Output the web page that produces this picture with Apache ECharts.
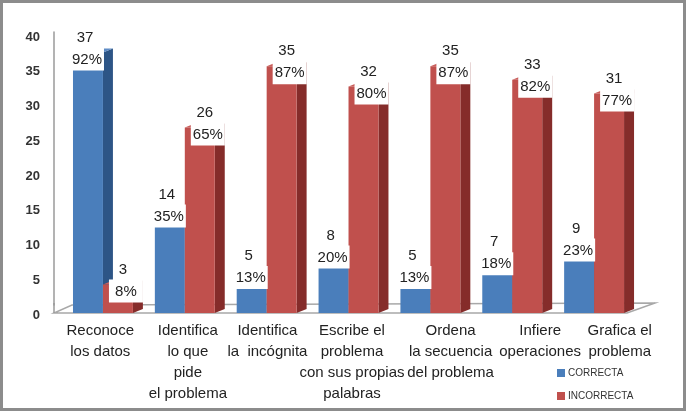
<!DOCTYPE html>
<html>
<head>
<meta charset="utf-8">
<script src="https://cdn.jsdelivr.net/npm/echarts@6/dist/echarts.min.js"></script>
<style>
  html, body { margin: 0; padding: 0; background: #fff; }
  #chart { width: 686px; height: 411px; }
</style>
</head>
<body>
<div id="chart"></div>
<script>
// chart data
const categories = [
    'Reconoce\nlos datos',
    'Identifica\nlo que\npide\nel problema',
    'Identifica\nla  incógnita',
    'Escribe el\nproblema\ncon sus propias\npalabras',
    'Ordena\nla secuencia\ndel problema',
    'Infiere\noperaciones',
    'Grafica el\nproblema'
];
const correcta = [37, 14, 5, 8, 5, 7, 9];
const incorrecta = [3, 26, 35, 32, 35, 33, 31];
const pctCorrecta = ['92%', '35%', '13%', '20%', '13%', '18%', '23%'];
const pctIncorrecta = ['8%', '65%', '87%', '80%', '87%', '82%', '77%'];
const yMin = 0, yMax = 40, yStep = 5;

const FONT = "'Liberation Sans', Arial, sans-serif";
const BLUE = { front: '#4a7ebb', side: '#2d5586', top: '#5f8cc6' };
const RED = { front: '#c0504d', side: '#852c2a', top: '#c95e5b' };
const FLOOR_DEPTH = 8;
// small horizontal nudges of the category labels (3D perspective in the original)
const labelNudge = [0, 2, -12, -16, 8, 14, 0];

// draws one pseudo-3D bar plus its two-line label
function barRenderer(shift, colors, pcts, valDx, pctDx) {
    return function (params, api) {
        const i = api.value(0), v = api.value(1);
        const topPt = api.coord([i, v]);
        const basePt = api.coord([i, 0]);
        const band = api.size([1, 0])[0];
        const w = band * 0.366, d = band * 0.122, rise = 4;
        const x0 = topPt[0] + band * shift, x1 = x0 + w;
        const yt = topPt[1], yb = basePt[1] + FLOOR_DEPTH;
        const txt = { fill: '#222', font: '15px ' + FONT, align: 'center', verticalAlign: 'middle' };
        return {
            type: 'group',
            children: [
                { type: 'polygon', shape: { points: [[x1, yb], [x1, yt], [x1 + d, yt - rise], [x1 + d, yb - rise]] }, style: { fill: colors.side } },
                { type: 'polygon', shape: { points: [[x0, yt], [x1, yt], [x1 + d, yt - rise], [x0 + d, yt - rise]] }, style: { fill: colors.top } },
                { type: 'rect', shape: { x: x0, y: yt, width: w, height: yb - yt }, style: { fill: colors.front } },
                { type: 'rect', shape: { x: x0 + pctDx - 17, y: yt - 5, width: 34, height: 23 }, style: { fill: '#fff' }, z2: 20 },
                { type: 'text', x: x0 + valDx, y: yt - 15, style: Object.assign({ text: String(v) }, txt), z2: 21 },
                { type: 'text', x: x0 + pctDx, y: yt + 7, style: Object.assign({ text: pcts[params.dataIndex] }, txt), z2: 21 }
            ]
        };
    };
}

// floor of the 3D plot area
function floorRenderer(params) {
    const cs = params.coordSys;
    const x = cs.x, y = cs.y + cs.height, w = cs.width;
    return {
        type: 'group',
        children: [
            {
                type: 'polygon',
                shape: { points: [[x, y + FLOOR_DEPTH], [x + w, y + FLOOR_DEPTH], [x + w + 28, y - 2], [x + 18, y]] },
                style: { fill: '#fff', stroke: '#a8a8a8', lineWidth: 1.5 }
            },
            {
                type: 'line',
                shape: { x1: x, y1: y - 2, x2: x, y2: y + FLOOR_DEPTH },
                style: { stroke: '#9a9a9a', lineWidth: 1.5 }
            }
        ]
    };
}

const chart = echarts.init(document.getElementById('chart'));
chart.setOption({
    animation: false,
    grid: [
        { left: 54, right: 59, top: 32, bottom: 106 },
        { left: 57, right: 23, top: 37, bottom: 96 }
    ],
    legend: {
        data: ['CORRECTA', 'INCORRECTA'],
        orient: 'vertical',
        left: 552,
        top: 363,
        icon: 'rect',
        itemWidth: 8,
        itemHeight: 8,
        itemGap: 13,
        textStyle: { fontSize: 10, color: '#333', fontFamily: FONT, padding: [0, 0, 0, -2] }
    },
    xAxis: [
        {
            gridIndex: 0, type: 'category', data: categories,
            axisLine: { show: false }, axisTick: { show: false }, axisLabel: { show: false }
        },
        {
            gridIndex: 1, type: 'category',
            data: categories.map((c, i) => ({
                value: c,
                textStyle: { padding: labelNudge[i] >= 0 ? [0, 0, 0, labelNudge[i]] : [0, -labelNudge[i], 0, 0] }
            })),
            axisLine: { show: false }, axisTick: { show: false },
            axisLabel: { interval: 0, fontSize: 15, lineHeight: 21, color: '#222', margin: 5, fontFamily: FONT }
        }
    ],
    yAxis: [
        {
            gridIndex: 0, type: 'value', min: yMin, max: yMax, interval: yStep,
            axisLine: { show: true, lineStyle: { color: '#9a9a9a', width: 1.5 } },
            axisTick: { show: false },
            splitLine: { show: false },
            axisLabel: { show: false }
        },
        {
            gridIndex: 1, type: 'value', min: yMin, max: yMax, interval: yStep,
            axisLine: { show: false }, axisTick: { show: false }, splitLine: { show: false },
            axisLabel: { fontSize: 13, fontWeight: 'bold', color: '#333', margin: 17, fontFamily: FONT }
        }
    ],
    graphic: [{
        type: 'rect', silent: true, z: 100,
        shape: { x: 1.5, y: 1.5, width: 683, height: 408 },
        style: { fill: 'none', stroke: '#8c8c8c', lineWidth: 3 }
    }],
    series: [
        {
            name: 'floor', type: 'custom', xAxisIndex: 0, yAxisIndex: 0, z: 1, silent: true,
            data: [[0, 0]], renderItem: floorRenderer
        },
        {
            name: 'CORRECTA', type: 'custom', xAxisIndex: 0, yAxisIndex: 0,
            itemStyle: { color: BLUE.front },
            data: correcta.map((v, i) => [i, v]),
            renderItem: barRenderer(-0.268, BLUE, pctCorrecta, 12, 14)
        },
        {
            name: 'INCORRECTA', type: 'custom', xAxisIndex: 0, yAxisIndex: 0,
            itemStyle: { color: RED.front },
            data: incorrecta.map((v, i) => [i, v]),
            renderItem: barRenderer(0.098, RED, pctIncorrecta, 20, 23)
        }
    ]
});
</script>
</body>
</html>
